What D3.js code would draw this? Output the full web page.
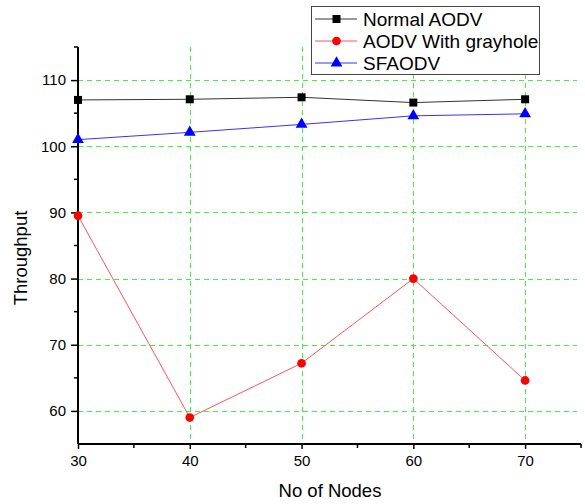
<!DOCTYPE html>
<html lang="en">
<head>
<meta charset="utf-8">
<script src="https://d3js.org/d3.v7.min.js"></script>
<style>
  body { margin: 0; background: #fff; }
  text { font-family: Arial, "Liberation Sans", sans-serif; fill: #000; }
</style>
</head>
<body>
<script>

// chart data
const nodes = [30, 40, 50, 60, 70];
const normalAodv = [107.0, 107.1, 107.4, 106.6, 107.1];
const grayhole = [89.5, 59.0, 67.2, 80.0, 64.6];
const sfaodv = [101.0, 102.1, 103.3, 104.6, 104.9];
const seriesNames = ['Normal AODV', 'AODV With grayhole', 'SFAODV'];
const xTicks = [30, 40, 50, 60, 70];
const yTicks = [60, 70, 80, 90, 100, 110];

const width = 585, height = 504;

const svg = d3.select('body').append('svg')
    .attr('width', width)
    .attr('height', height);

const x = d3.scaleLinear().domain([30, 75]).range([78, 581]);
const y = d3.scaleLinear().domain([55, 115]).range([444, 47]);

// grid
const grid = svg.append('g')
    .attr('stroke', '#44ee44')
    .attr('stroke-width', 1)
    .attr('stroke-dasharray', '5,4');

grid.selectAll('.hg')
  .data(yTicks)
  .enter().append('line')
    .attr('x1', x(30)).attr('x2', 577)
    .attr('y1', d => Math.round(y(d)) + 0.5)
    .attr('y2', d => Math.round(y(d)) + 0.5);

grid.selectAll('.vg')
  .data(xTicks.slice(1))
  .enter().append('line')
    .attr('y1', y(115)).attr('y2', y(55))
    .attr('x1', d => Math.round(x(d)) + 0.5)
    .attr('x2', d => Math.round(x(d)) + 0.5);

// axes
const xAxis = d3.axisBottom(x).tickValues(xTicks).tickSize(5).tickPadding(6).tickFormat(d3.format('d'));
const yAxis = d3.axisLeft(y).tickValues(yTicks).tickSize(7).tickPadding(5).tickFormat(d3.format('d'));

const gx = svg.append('g').attr('transform', 'translate(0,' + y(55) + ')').call(xAxis);
const gy = svg.append('g').attr('transform', 'translate(' + x(30) + ',0)').call(yAxis);

// minor ticks
gx.selectAll('.minor')
  .data([35, 45, 55, 65, 75])
  .enter().append('line')
    .attr('x1', d => x(d)).attr('x2', d => x(d))
    .attr('y1', 0).attr('y2', 4)
    .attr('stroke', '#000').attr('stroke-width', 1.5);
gy.selectAll('.minor')
  .data([65, 75, 85, 95, 105, 115])
  .enter().append('line')
    .attr('y1', d => y(d)).attr('y2', d => y(d))
    .attr('x1', 0).attr('x2', -4)
    .attr('stroke', '#000').attr('stroke-width', 1.5);

[gx, gy].forEach(g => {
  g.select('.domain').attr('stroke', '#000').attr('stroke-width', 2);
  g.selectAll('.tick line').attr('stroke', '#000').attr('stroke-width', 1.5);
  g.selectAll('.tick text')
    .attr('font-size', '15px')
    .attr('font-family', 'Arial, "Liberation Sans", sans-serif')
    .attr('fill', '#000');
});
gx.select('.domain').attr('d', 'M' + x(30) + ',0H' + x(75));
gy.select('.domain').attr('d', 'M0,' + y(55) + 'V' + y(115));

// axis titles
svg.append('text')
    .attr('x', 330).attr('y', 497)
    .attr('text-anchor', 'middle')
    .attr('font-size', '18.5px')
    .text('No of Nodes');

svg.append('text')
    .attr('transform', 'translate(27,258) rotate(-90)')
    .attr('text-anchor', 'middle')
    .attr('font-size', '18.5px')
    .text('Throughput');

// series
const series = [
  { name: seriesNames[0], values: normalAodv, color: '#000', line: '#333', shape: d3.symbolSquare, size: 64 },
  { name: seriesNames[1], values: grayhole, color: '#ff0000', line: '#ff5555', shape: d3.symbolCircle, size: 60 },
  { name: seriesNames[2], values: sfaodv, color: '#0000ff', line: '#3333ff', shape: d3.symbolTriangle, size: 60 }
];

const line = d3.line()
    .x((d, i) => x(nodes[i]))
    .y(d => y(d));

series.forEach(s => {
  svg.append('path')
      .attr('d', line(s.values))
      .attr('fill', 'none')
      .attr('stroke', s.line)
      .attr('stroke-width', 1);

  svg.selectAll(null)
    .data(s.values)
    .enter().append('path')
      .attr('d', d3.symbol().type(s.shape).size(s.size))
      .attr('transform', (d, i) => 'translate(' + x(nodes[i]) + ',' + y(d) + ')')
      .attr('fill', s.color);
});

// legend
const legend = svg.append('g');
legend.append('rect')
    .attr('x', 311.5).attr('y', 6.5)
    .attr('width', 228).attr('height', 68)
    .attr('fill', '#fff')
    .attr('stroke', '#444')
    .attr('stroke-width', 1);

series.forEach((s, i) => {
  const ly = 19 + i * 22;
  legend.append('line')
      .attr('x1', 315).attr('x2', 357)
      .attr('y1', ly).attr('y2', ly)
      .attr('stroke', s.line).attr('stroke-width', 1);
  legend.append('path')
      .attr('d', d3.symbol().type(s.shape).size(s.size))
      .attr('transform', 'translate(336.5,' + ly + ')')
      .attr('fill', s.color);
  legend.append('text')
      .attr('x', 363).attr('y', ly + 6.5)
      .attr('font-size', '19px')
      .text(s.name);
});

</script>
</body>
</html>
